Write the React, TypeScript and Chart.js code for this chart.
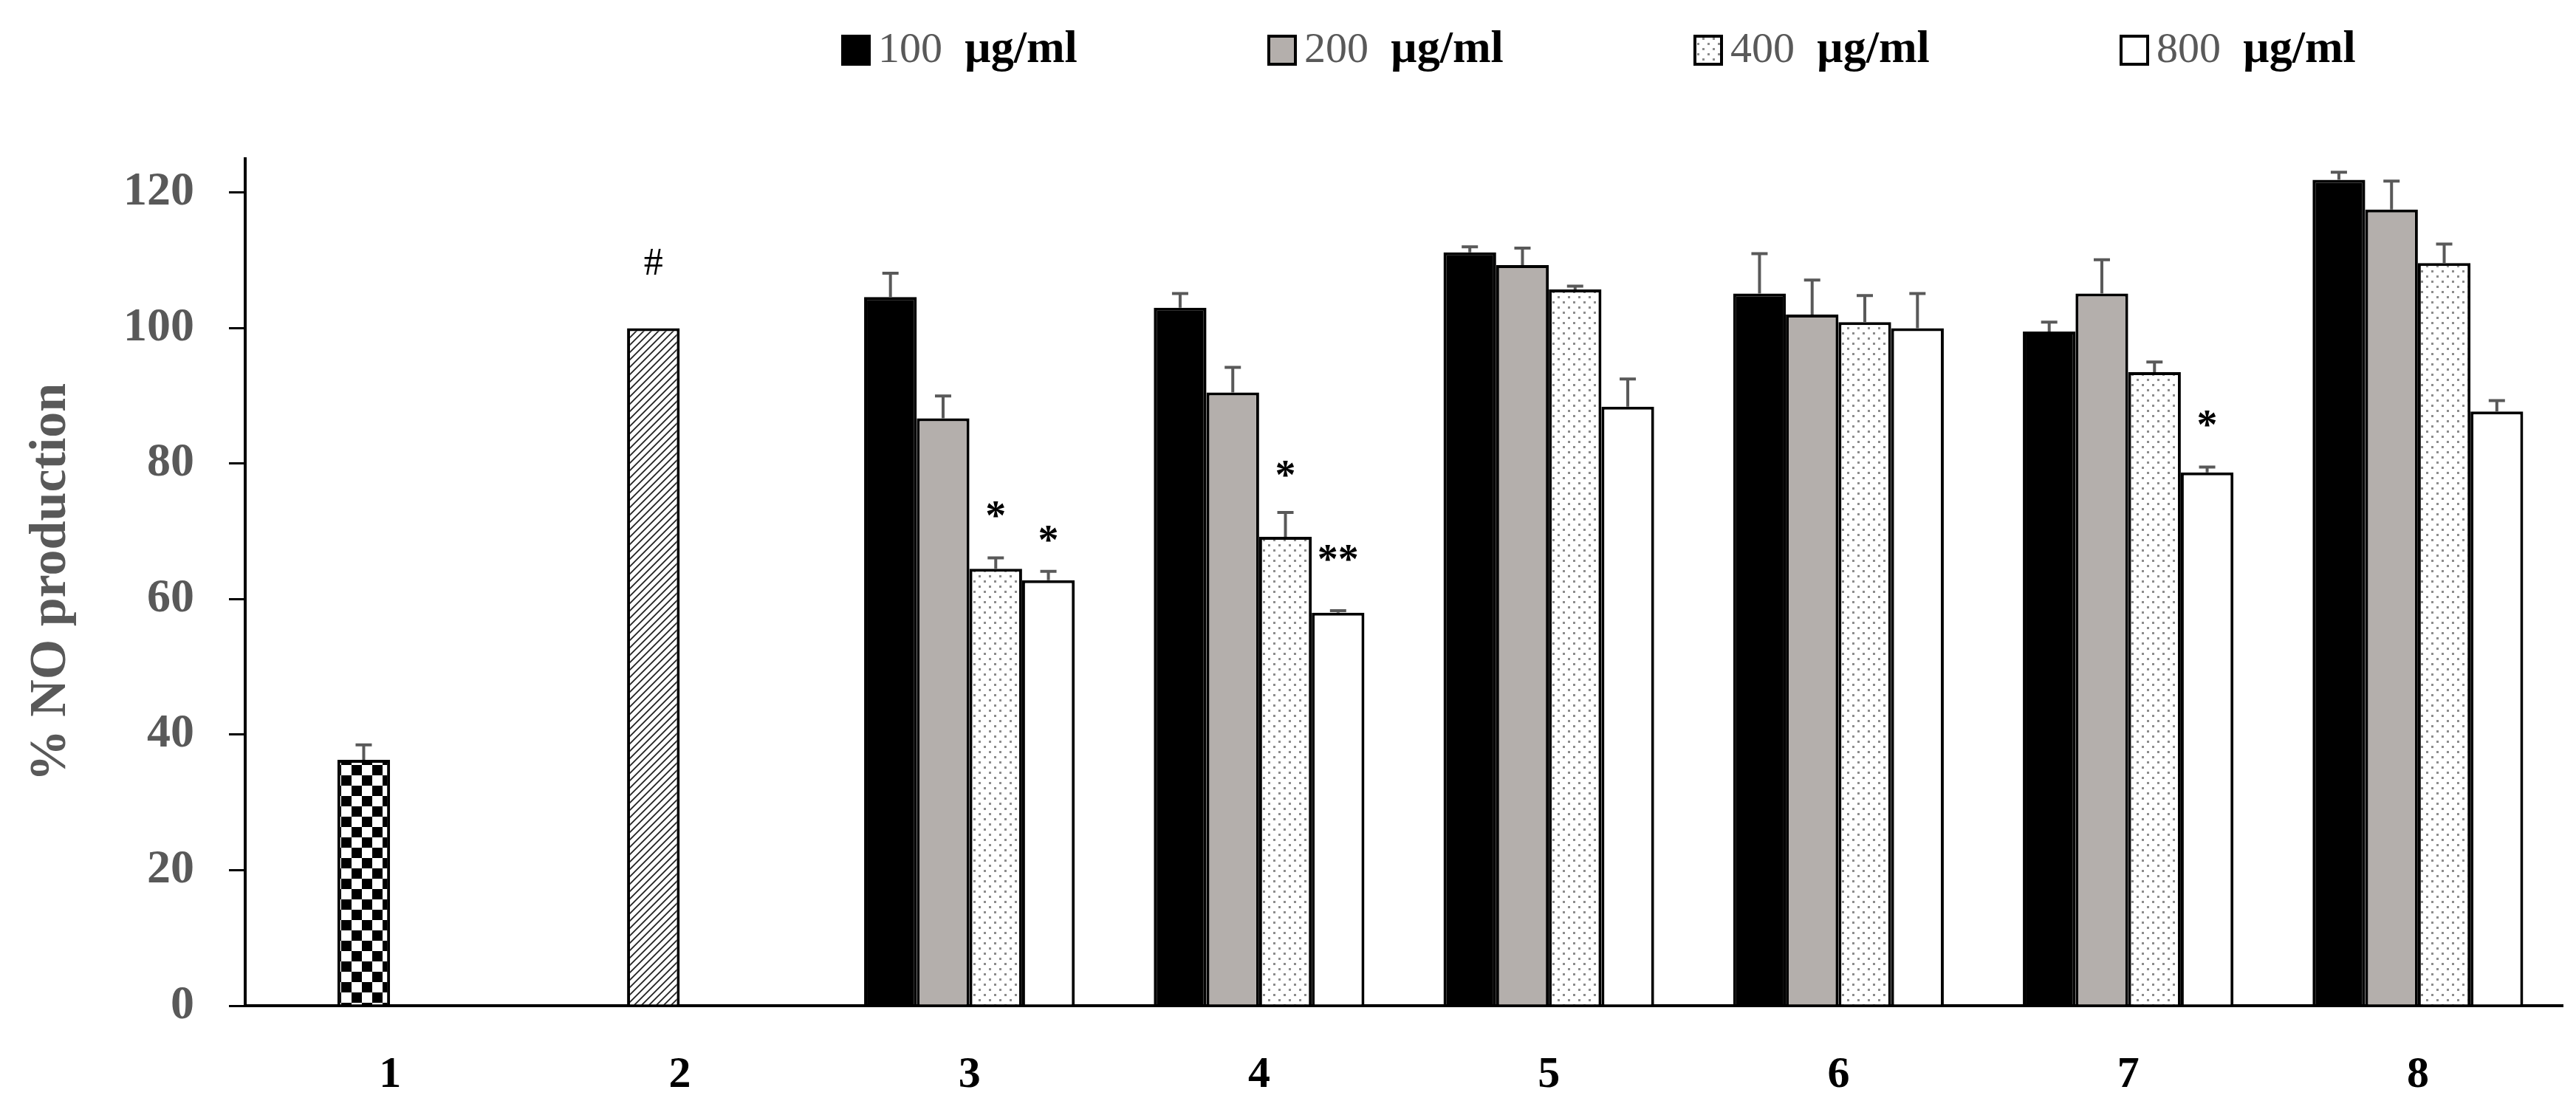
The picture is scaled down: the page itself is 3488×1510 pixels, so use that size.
import { useEffect, useRef } from "react";
import { Chart, registerables } from "chart.js";

Chart.register(...registerables);

// data (% NO production)
const categories = ["1", "2", "3", "4", "5", "6", "7", "8"];
const doseLabels = ["100", "200", "400", "800"];

const dose100 = [null, null, 104.6, 103.0, 111.2, 105.1, 99.5, 121.9];
const dose200 = [36.3, 100.0, 86.7, 90.5, 109.3, 102.0, 105.1, 117.5];
const dose400 = [null, null, 64.5, 69.2, 105.7, 100.9, 93.5, 109.6];
const dose800 = [null, null, 62.8, 58.0, 88.4, 100.0, 78.7, 87.7];

const err100 = [0, 0, 3.5, 2.1, 0.8, 5.9, 1.4, 1.1];
const err200 = [2.2, 0, 3.3, 3.7, 2.5, 5.1, 5.0, 4.2];
const err400 = [0, 0, 1.6, 3.6, 0.5, 3.9, 1.5, 2.8];
const err800 = [0, 0, 1.3, 0.3, 4.1, 5.1, 0.8, 1.6];

const errors = [err100, err200, err400, err800];

// significance marks: [series, category, text, value where the mark sits]
const marks: [number, number, string, number][] = [
  [1, 1, "#", 110.5],
  [2, 2, "*", 73],
  [3, 2, "*", 69.4],
  [2, 3, "*", 79],
  [3, 3, "**", 66.5],
  [3, 6, "*", 86.4],
];

const FONT = "'Liberation Serif', 'Times New Roman', serif";
const GREY_TEXT = "#595959";
const BAR_GREY = "#b4afac";

function makePattern(size: number, draw: (c: CanvasRenderingContext2D) => void) {
  const cv = document.createElement("canvas");
  cv.width = size;
  cv.height = size;
  const c = cv.getContext("2d")!;
  c.fillStyle = "#fff";
  c.fillRect(0, 0, size, size);
  draw(c);
  return c.createPattern(cv, "repeat")!;
}

export default function App() {
  const canvasRef = useRef<HTMLCanvasElement>(null);
  const chartRef = useRef<Chart | null>(null);

  useEffect(() => {
    if (!canvasRef.current) return;
    document.body.style.margin = "0";
    if (chartRef.current) chartRef.current.destroy();

    const checker = makePattern(28, (c) => {
      c.fillStyle = "#000";
      c.fillRect(0, 0, 14, 14);
      c.fillRect(14, 14, 14, 14);
    });
    const hatch = makePattern(10, (c) => {
      c.strokeStyle = "#222";
      c.lineWidth = 1.8;
      c.beginPath();
      c.moveTo(-2, 12);
      c.lineTo(12, -2);
      c.moveTo(-7, 7);
      c.lineTo(7, -7);
      c.moveTo(3, 17);
      c.lineTo(17, 3);
      c.stroke();
    });
    const dots = makePattern(14, (c) => {
      c.fillStyle = "#8c8c8c";
      c.fillRect(2, 2, 3, 3);
      c.fillRect(9, 9, 3, 3);
    });

    const fills = ["#000", BAR_GREY, dots, "#fff"];
    const fill200 = dose200.map((_, i) => (i === 0 ? checker : i === 1 ? hatch : BAR_GREY));

    const errorBars = {
      id: "errorBars",
      afterDatasetsDraw(chart: Chart) {
        const { ctx } = chart;
        const y = chart.scales.y;
        ctx.save();
        ctx.strokeStyle = GREY_TEXT;
        ctx.lineWidth = 4;
        chart.data.datasets.forEach((ds, di) => {
          const meta = chart.getDatasetMeta(di);
          meta.data.forEach((bar: any, i) => {
            const v = ds.data[i] as number | null;
            const e = errors[di][i];
            if (v == null || !e) return;
            const top = y.getPixelForValue(v + e);
            ctx.beginPath();
            ctx.moveTo(bar.x, bar.y);
            ctx.lineTo(bar.x, top);
            ctx.moveTo(bar.x - 11, top);
            ctx.lineTo(bar.x + 11, top);
            ctx.stroke();
          });
        });
        ctx.restore();
      },
    };

    const marksPlugin = {
      id: "marks",
      afterDatasetsDraw(chart: Chart) {
        const { ctx } = chart;
        const y = chart.scales.y;
        ctx.save();
        ctx.fillStyle = "#000";
        ctx.textAlign = "center";
        ctx.textBaseline = "middle";
        marks.forEach(([s, c, text, val]) => {
          const bar: any = chart.getDatasetMeta(s).data[c];
          ctx.font = text === "#" ? `52px ${FONT}` : `bold 56px ${FONT}`;
          ctx.fillText(text, bar.x, y.getPixelForValue(val) + 10);
        });
        ctx.restore();
      },
    };

    const doseLegend = {
      id: "doseLegend",
      afterDraw(chart: Chart) {
        const { ctx } = chart;
        ctx.save();
        ctx.textBaseline = "alphabetic";
        doseLabels.forEach((lab, i) => {
          const x0 = 1139 + i * 577;
          ctx.fillStyle = fills[i] as any;
          ctx.fillRect(x0, 47, 40, 42);
          ctx.strokeStyle = "#000";
          ctx.lineWidth = 4;
          ctx.strokeRect(x0 + 2, 49, 36, 38);
          ctx.font = `58px ${FONT}`;
          ctx.fillStyle = GREY_TEXT;
          ctx.fillText(lab, x0 + 50, 84);
          const w = ctx.measureText(lab).width;
          ctx.font = `bold 62px ${FONT}`;
          ctx.fillStyle = "#000";
          ctx.fillText("µg/ml", x0 + 50 + w + 30, 84);
        });
        ctx.restore();
      },
    };

    const mk = (label: string, data: (number | null)[], bg: any) => ({
      label,
      data,
      backgroundColor: bg,
      borderColor: "#000",
      borderWidth: 4,
      categoryPercentage: 0.727,
      barPercentage: 1.0,
    });

    chartRef.current = new Chart(canvasRef.current, {
      type: "bar",
      data: {
        labels: categories,
        datasets: [
          mk("100 µg/ml", dose100, "#000"),
          mk("200 µg/ml", dose200, fill200),
          mk("400 µg/ml", dose400, dots),
          mk("800 µg/ml", dose800, "#fff"),
        ],
      },
      options: {
        animation: false,
        responsive: true,
        maintainAspectRatio: false,
        layout: { padding: { top: 215, right: 18, left: 0, bottom: 0 } },
        plugins: {
          legend: { display: false },
          tooltip: { enabled: false },
        },
        scales: {
          x: {
            grid: { display: false },
            border: { display: true, color: "#000", width: 4 },
            ticks: {
              color: "#000",
              padding: 50,
              font: { family: FONT, size: 60, weight: "bold" },
            },
            afterFit: (s: any) => {
              s.height = 148;
            },
          },
          y: {
            min: 0,
            max: 125,
            ticks: {
              stepSize: 20,
              includeBounds: false,
              color: GREY_TEXT,
              padding: 47,
              font: { family: FONT, size: 64, weight: "bold" },
            },
            grid: {
              drawOnChartArea: false,
              drawTicks: true,
              tickLength: 22,
              color: "#000",
              lineWidth: 3,
            },
            border: { display: true, color: "#000", width: 4 },
            title: {
              display: true,
              text: "% NO production",
              color: GREY_TEXT,
              font: { family: FONT, size: 70, weight: "bold" },
              padding: { top: 28, bottom: 0 },
            },
            afterFit: (s: any) => {
              s.width = 332;
            },
          },
        },
      },
      plugins: [errorBars, marksPlugin, doseLegend],
    });

    return () => {
      chartRef.current?.destroy();
      chartRef.current = null;
    };
  }, []);

  return (
    <div style={{ width: "3488px", height: "1510px", position: "relative", background: "#fff" }}>
      <canvas ref={canvasRef} />
    </div>
  );
}
